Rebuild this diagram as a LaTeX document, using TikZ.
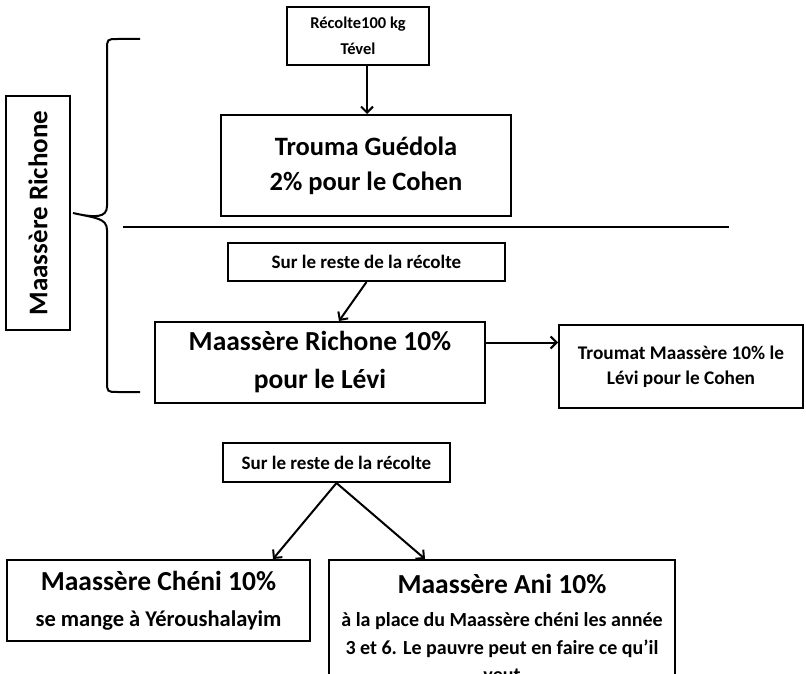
\documentclass[tikz,border=0pt]{standalone}
\usepackage{fontspec}
\setmainfont{Carlito}
\usetikzlibrary{arrows.meta}

\newcommand{\bigtxt}{\fontsize{26.5}{35}\selectfont\bfseries}
\newcommand{\smalltxt}{\fontsize{19.3}{25}\selectfont\bfseries}
\newcommand{\restetxt}{\fontsize{19}{22}\selectfont\bfseries}

\tikzset{
  box/.style={draw, line width=2pt, align=center, inner sep=0pt},
  flow/.style={-{Straight Barb[length=6pt,width=12pt]}, line width=2pt},
}

\begin{document}
\begin{tikzpicture}[x=1pt, y=-1pt]
  \useasboundingbox (0,0) rectangle (806,674);

  % top part
  \node[box, minimum width=142pt, minimum height=58pt, font=\fontsize{16.5}{26}\selectfont\bfseries] (recolte) at (358,36) {Récolte100 kg\\Tével};
  \node[box, minimum width=290pt, minimum height=101pt, font=\bigtxt] (trouma) at (366,165.5) {Trouma Guédola\\2\% pour le Cohen};
  \draw[flow] ([xshift=9pt]recolte.south) -- ([xshift=9pt]recolte.south |- trouma.north);

  \draw[line width=2pt] (123,227) coordinate (sepL) -- (729,227) coordinate (sepR);

  % maassere richone
  \node[box, minimum width=277pt, minimum height=38pt, font=\restetxt] (reste1) at (366.5,262) {Sur le reste de la récolte};
  \node[box, minimum width=330pt, minimum height=81pt, font=\fontsize{27.5}{38}\selectfont\bfseries] (richone) at (320,362.5) {Maassère Richone 10\%\\pour le Lévi};
  \node[box, minimum width=244pt, minimum height=83pt, font=\smalltxt] (troumat) at (681,366.5) {Troumat Maassère 10\% le\\Lévi pour le Cohen};
  \draw[flow] (reste1.south) -- ([xshift=19pt]richone.north);
  \draw[flow] ([yshift=20pt]richone.east) -- ([yshift=20pt]richone.east -| troumat.west);

  % side label and brace
  \node[box, rotate=90, minimum width=234pt, minimum height=64pt, font=\fontsize{27}{30}\selectfont\bfseries] (side) at (38,213) {Maassère Richone};
  \draw[line width=2pt] (140,39) -- (118,39) .. controls (107,39) .. (107,50) -- (107,206)
    .. controls (107,218) and (95,218) .. ([xshift=2pt]side.south)
    .. controls (95,218) and (107,218) .. (107,230) -- (107,381)
    .. controls (107,392) .. (118,392) -- (140,392);

  % bottom part
  \node[box, minimum width=227pt, minimum height=39pt, font=\restetxt] (reste2) at (336.5,462.5) {Sur le reste de la récolte};
  \node[box, minimum width=303pt, minimum height=81pt, font=\fontsize{22.5}{36}\selectfont\bfseries] (cheni) at (158.5,600.5)
    {{\fontsize{27.5}{33}\selectfont Maassère Chéni 10\%}\\se mange à Yéroushalayim};
  \node[box, minimum width=346pt, minimum height=136pt, font=\fontsize{20}{27.5}\selectfont\bfseries] (ani) at (502,628)
    {{\fontsize{27.5}{33}\selectfont Maassère Ani 10\%}\\[6pt]à la place du Maassère chéni les année\\3 et 6. Le pauvre peut en faire ce qu’il\\veut};
  \draw[flow] (reste2.south) -- ([xshift=114.5pt]cheni.north);
  \draw[flow] (reste2.south) -- ([xshift=-77pt]ani.north);
\end{tikzpicture}
\end{document}
